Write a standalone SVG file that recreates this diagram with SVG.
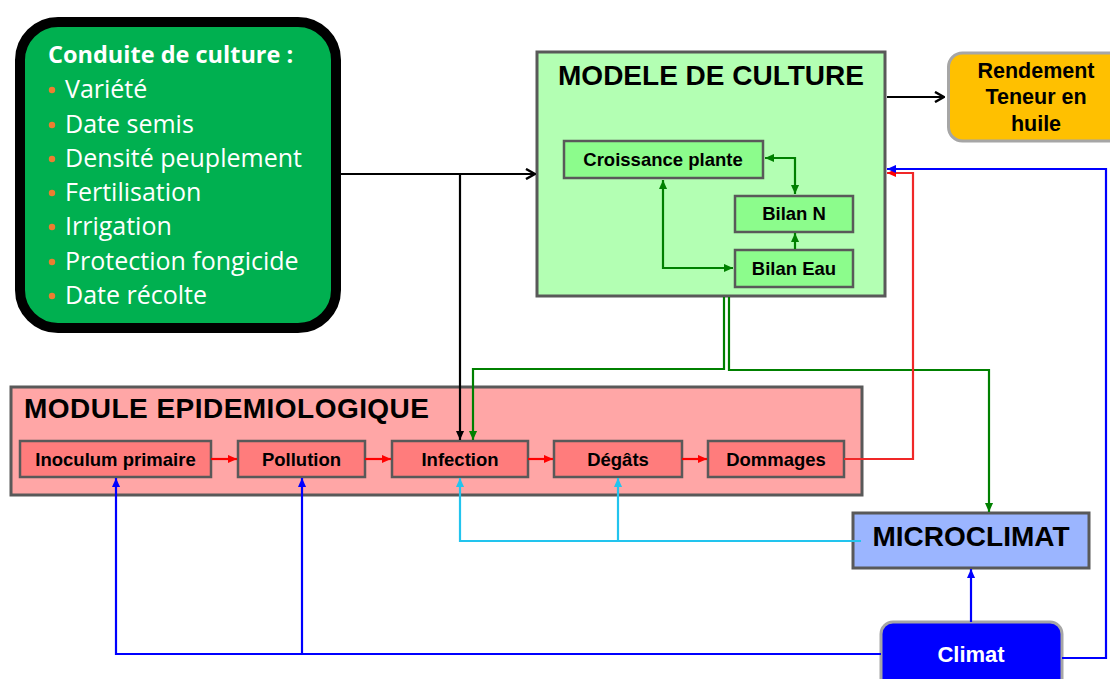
<svg xmlns="http://www.w3.org/2000/svg" width="1110" height="679" viewBox="0 0 1110 679">
<style>
.t{font-family:"Liberation Sans",Arial,sans-serif;font-weight:bold;fill:#000}
.big{font-size:28px}
.sm{font-size:18.5px;text-anchor:middle}
.cc{font-family:"Open Sans","Noto Sans",sans-serif;fill:#fff}
.box{stroke:#595959;stroke-width:3}
.sub{stroke:#595959;stroke-width:2.5}
.ln{fill:none;stroke-width:2.2}
</style>
<defs>
<marker id="ag" viewBox="0 0 10 10" refX="10" refY="5" markerWidth="9" markerHeight="9" markerUnits="userSpaceOnUse" orient="auto-start-reverse"><path d="M0,0.5 L10,5 L0,9.5z" fill="#008000"/></marker>
<marker id="ar" viewBox="0 0 10 10" refX="10" refY="5" markerWidth="9" markerHeight="9" markerUnits="userSpaceOnUse" orient="auto"><path d="M0,0.5 L10,5 L0,9.5z" fill="#FF0000"/></marker>
<marker id="ab" viewBox="0 0 10 10" refX="10" refY="5" markerWidth="9" markerHeight="9" markerUnits="userSpaceOnUse" orient="auto"><path d="M0,0.5 L10,5 L0,9.5z" fill="#0000FF"/></marker>
<marker id="ac" viewBox="0 0 10 10" refX="10" refY="5" markerWidth="9" markerHeight="9" markerUnits="userSpaceOnUse" orient="auto"><path d="M0,0.5 L10,5 L0,9.5z" fill="#22C4EE"/></marker>
<marker id="ak" viewBox="0 0 10 10" refX="10" refY="5" markerWidth="9" markerHeight="9" markerUnits="userSpaceOnUse" orient="auto"><path d="M0,0.5 L10,5 L0,9.5z" fill="#000"/></marker>
<marker id="ao" viewBox="0 0 12 12" refX="11" refY="6" markerWidth="12" markerHeight="12" markerUnits="userSpaceOnUse" orient="auto"><path d="M2,1 L11,6 L2,11" fill="none" stroke="#000" stroke-width="2.5"/></marker>
</defs>

<g id="conduite">
<rect x="20" y="22" width="316" height="306" rx="38" fill="#00B050" stroke="#000" stroke-width="10"/>
<text class="cc" x="48" y="63" font-size="23.5" font-weight="bold">Conduite de culture :</text>
<g fill="#ED7D31">
<circle cx="52" cy="90" r="3.2"/><circle cx="52" cy="125" r="3.2"/><circle cx="52" cy="159" r="3.2"/><circle cx="52" cy="193" r="3.2"/><circle cx="52" cy="227" r="3.2"/><circle cx="52" cy="262" r="3.2"/><circle cx="52" cy="296" r="3.2"/>
</g>
<g class="cc" font-size="25">
<text x="65" y="98">Variété</text>
<text x="65" y="133">Date semis</text>
<text x="65" y="167">Densité peuplement</text>
<text x="65" y="201">Fertilisation</text>
<text x="65" y="235">Irrigation</text>
<text x="65" y="270">Protection fongicide</text>
<text x="65" y="304">Date récolte</text>
</g>
</g>

<g id="modele">
<rect class="box" x="537" y="52" width="348" height="244" fill="#B3FFB3"/>
<text class="t big" x="711" y="85" text-anchor="middle">MODELE DE CULTURE</text>
</g>
<g id="croissance">
<rect class="sub" x="564" y="141" width="199" height="37" fill="#8CFC8C"/>
<text class="t sm" x="663" y="165.5">Croissance plante</text>
</g>
<g id="bilanN">
<rect class="sub" x="735" y="196" width="118" height="36" fill="#8CFC8C"/>
<text class="t sm" x="794" y="220">Bilan N</text>
</g>
<g id="bilanEau">
<rect class="sub" x="735" y="250" width="118" height="37" fill="#8CFC8C"/>
<text class="t sm" x="794" y="274.5">Bilan Eau</text>
</g>

<g id="rendement">
<rect x="948.5" y="53" width="180" height="88" rx="14" fill="#FFC000" stroke="#A6A6A6" stroke-width="3"/>
<g class="t" font-size="21.5" text-anchor="middle">
<text x="1036" y="78">Rendement</text>
<text x="1036" y="104">Teneur en</text>
<text x="1036" y="131">huile</text>
</g>
</g>

<g id="module">
<rect class="box" x="11" y="387" width="851" height="108" fill="#FFA6A6"/>
<text class="t big" x="24" y="418" textLength="405">MODULE EPIDEMIOLOGIQUE</text>
</g>
<g id="inoculum">
<rect class="sub" x="20" y="441" width="191" height="36" fill="#FF7C7C"/>
<text class="t sm" x="115.5" y="465.5">Inoculum primaire</text>
</g>
<g id="pollution">
<rect class="sub" x="238" y="441" width="127" height="36" fill="#FF7C7C"/>
<text class="t sm" x="301.5" y="465.5">Pollution</text>
</g>
<g id="infection">
<rect class="sub" x="392" y="441" width="136" height="36" fill="#FF7C7C"/>
<text class="t sm" x="460" y="465.5">Infection</text>
</g>
<g id="degats">
<rect class="sub" x="554" y="441" width="128" height="36" fill="#FF7C7C"/>
<text class="t sm" x="618" y="465.5">Dégâts</text>
</g>
<g id="dommages">
<rect class="sub" x="708" y="441" width="136" height="36" fill="#FF7C7C"/>
<text class="t sm" x="776" y="465.5">Dommages</text>
</g>

<g id="microclimat">
<rect class="box" x="853" y="513" width="236" height="55" fill="#9BB5FF"/>
<text class="t big" x="971" y="546" text-anchor="middle">MICROCLIMAT</text>
</g>

<g id="climat">
<rect x="881" y="622" width="181" height="75" rx="12" fill="#0000FF" stroke="#A6A6A6" stroke-width="3"/>
<text class="t" x="971" y="662" font-size="22" text-anchor="middle" style="fill:#fff">Climat</text>
</g>

<g id="connectors">
<path class="ln" stroke="#000" stroke-width="2.5" d="M341,174 H535" marker-end="url(#ao)"/>
<path class="ln" stroke="#000" d="M460,174 V440" marker-end="url(#ak)"/>
<path class="ln" stroke="#000" stroke-width="2.5" d="M887,97 H944" marker-end="url(#ao)"/>
<path class="ln" stroke="#008000" d="M765,158 H795 V194" marker-start="url(#ag)" marker-end="url(#ag)"/>
<path class="ln" stroke="#008000" d="M795,249 V233" marker-end="url(#ag)"/>
<path class="ln" stroke="#008000" d="M663,180 V268 H733" marker-start="url(#ag)" marker-end="url(#ag)"/>
<path class="ln" stroke="#008000" d="M724,297 V369 H473 V440" marker-end="url(#ag)"/>
<path class="ln" stroke="#008000" d="M729,297 V370 H989 V512" marker-end="url(#ag)"/>
<path class="ln" stroke="#FF0000" d="M211,459 H237" marker-end="url(#ar)"/>
<path class="ln" stroke="#FF0000" d="M365,459 H391" marker-end="url(#ar)"/>
<path class="ln" stroke="#FF0000" d="M528,459 H553" marker-end="url(#ar)"/>
<path class="ln" stroke="#FF0000" d="M682,459 H707" marker-end="url(#ar)"/>
<path class="ln" stroke="#F02828" d="M844,459 H913 V173 H887" marker-end="url(#ar)"/>
<path class="ln" stroke="#0000FF" d="M881,654 H116 V478" marker-end="url(#ab)"/>
<path class="ln" stroke="#0000FF" d="M302,654 V478" marker-end="url(#ab)"/>
<path class="ln" stroke="#0000FF" d="M1062,658 H1106 V169 H887" marker-end="url(#ab)"/>
<path class="ln" stroke="#0000FF" d="M971,622 V569" marker-end="url(#ab)"/>
<path class="ln" stroke="#22C4EE" d="M861,541 H460 V478" marker-end="url(#ac)"/>
<path class="ln" stroke="#22C4EE" d="M618,541 V478" marker-end="url(#ac)"/>
</g>
</svg>
